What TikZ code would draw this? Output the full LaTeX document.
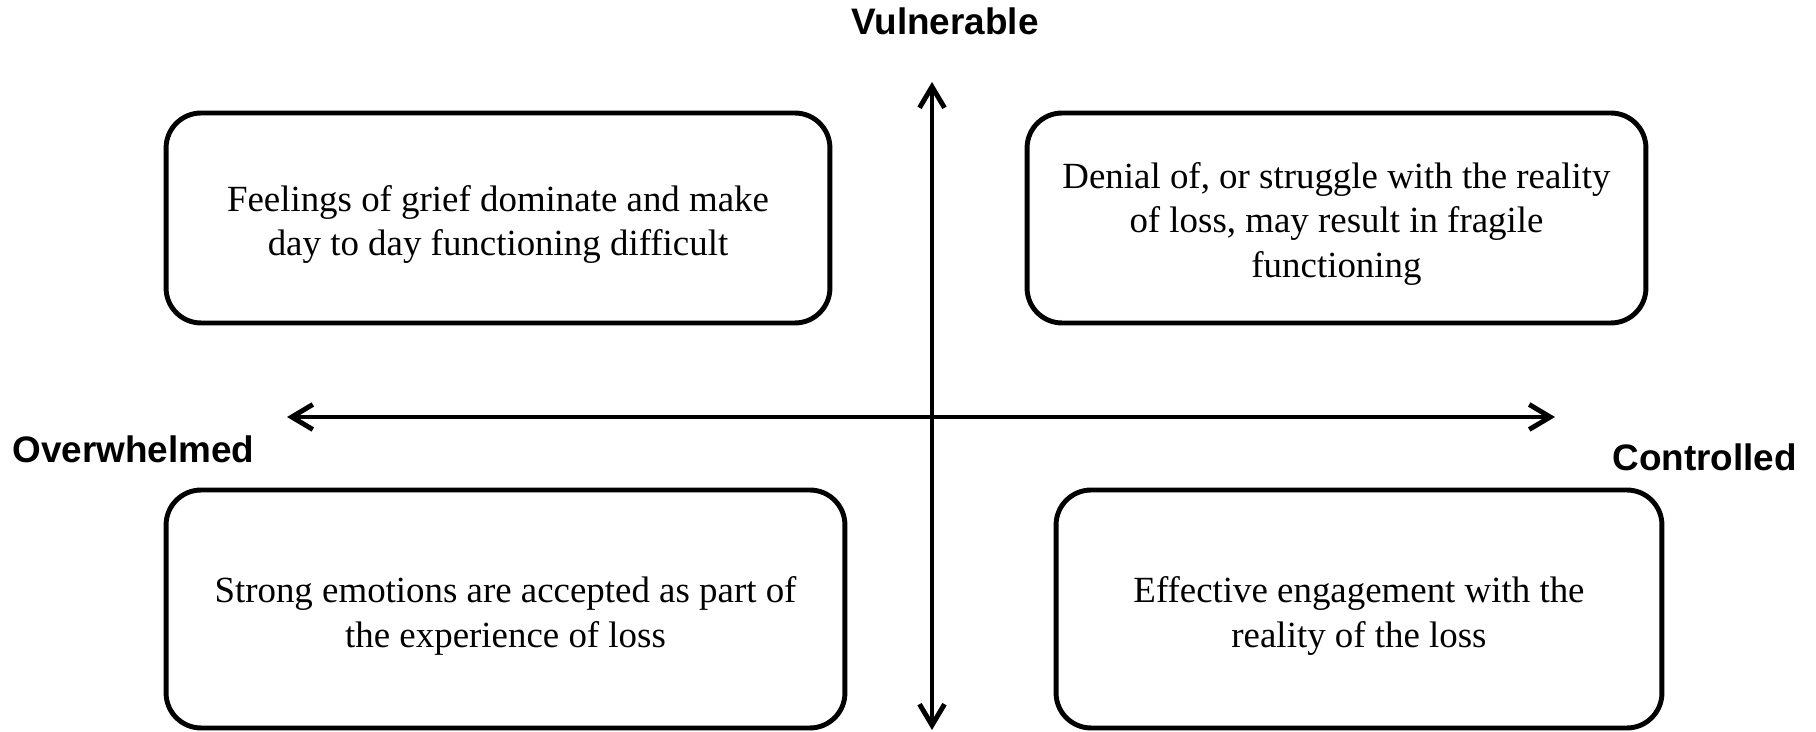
\documentclass[tikz,border=0pt]{standalone}
\usepackage{fontspec}
\setmainfont{Liberation Serif}
\newfontfamily\axisfont{Liberation Sans}
\usetikzlibrary{arrows.meta,positioning}

\tikzset{
    quadbox/.style={draw, line width=2.8pt, rounded corners=0.7cm, inner sep=0pt},
    quadtext/.style={align=center, inner sep=0pt, font=\fontsize{21}{25.5}\selectfont},
    axislabel/.style={anchor=base, inner sep=0pt, font=\axisfont\bfseries\fontsize{21}{25}\selectfont},
    axisline/.style={line width=2.8pt, {Straight Barb[length=0.42cm,width=0.5cm,line width=2.8pt]}-{Straight Barb[length=0.42cm,width=0.5cm,line width=2.8pt]}}
}

\begin{document}
\begin{tikzpicture}[x=0.02cm,y=-0.02cm]
    \useasboundingbox (0,0) rectangle (1816,732);

    %Axis ends
    \coordinate (top) at (932,82);
    \coordinate (bottom) at (932,730);
    \coordinate (left) at (287,417);
    \coordinate (right) at (1555,417);
    %Axes
    \draw[axisline] (bottom) -- (top);
    \draw[axisline] (left) -- (right);
    %Axis labels
    \node[axislabel] (vuln) at (945,35) {Vulnerable};
    \node[axislabel, anchor=base west] (overw) at (12,463) {Overwhelmed};
    \node[axislabel, anchor=base west] (contr) at (1612,471) {Controlled};
    %Quadrants
    \node[quadbox, minimum width=13.28cm, minimum height=4.2cm] (grief) at (498,218) {};
    \node[quadtext] (grieftext) at ([yshift=-0.13cm]grief.center)
        {Feelings of grief dominate and make\\day to day functioning difficult};
    \node[quadbox, minimum width=12.38cm, minimum height=4.2cm] (denial) at (1336.5,218) {};
    \node[quadtext] (denialtext) at ([yshift=-0.12cm]denial.center)
        {Denial of, or struggle with the reality\\of loss, may result in fragile\\functioning};
    \node[quadbox, minimum width=13.58cm, minimum height=4.76cm] (strong) at (505.5,609) {};
    \node[quadtext] (strongtext) at ([yshift=-0.14cm]strong.center)
        {Strong emotions are accepted as part of\\the experience of loss};
    \node[quadbox, minimum width=12.12cm, minimum height=4.76cm] (effective) at (1359,609) {};
    \node[quadtext] (effectivetext) at ([yshift=-0.14cm]effective.center)
        {Effective engagement with the\\reality of the loss};
\end{tikzpicture}
\end{document}
